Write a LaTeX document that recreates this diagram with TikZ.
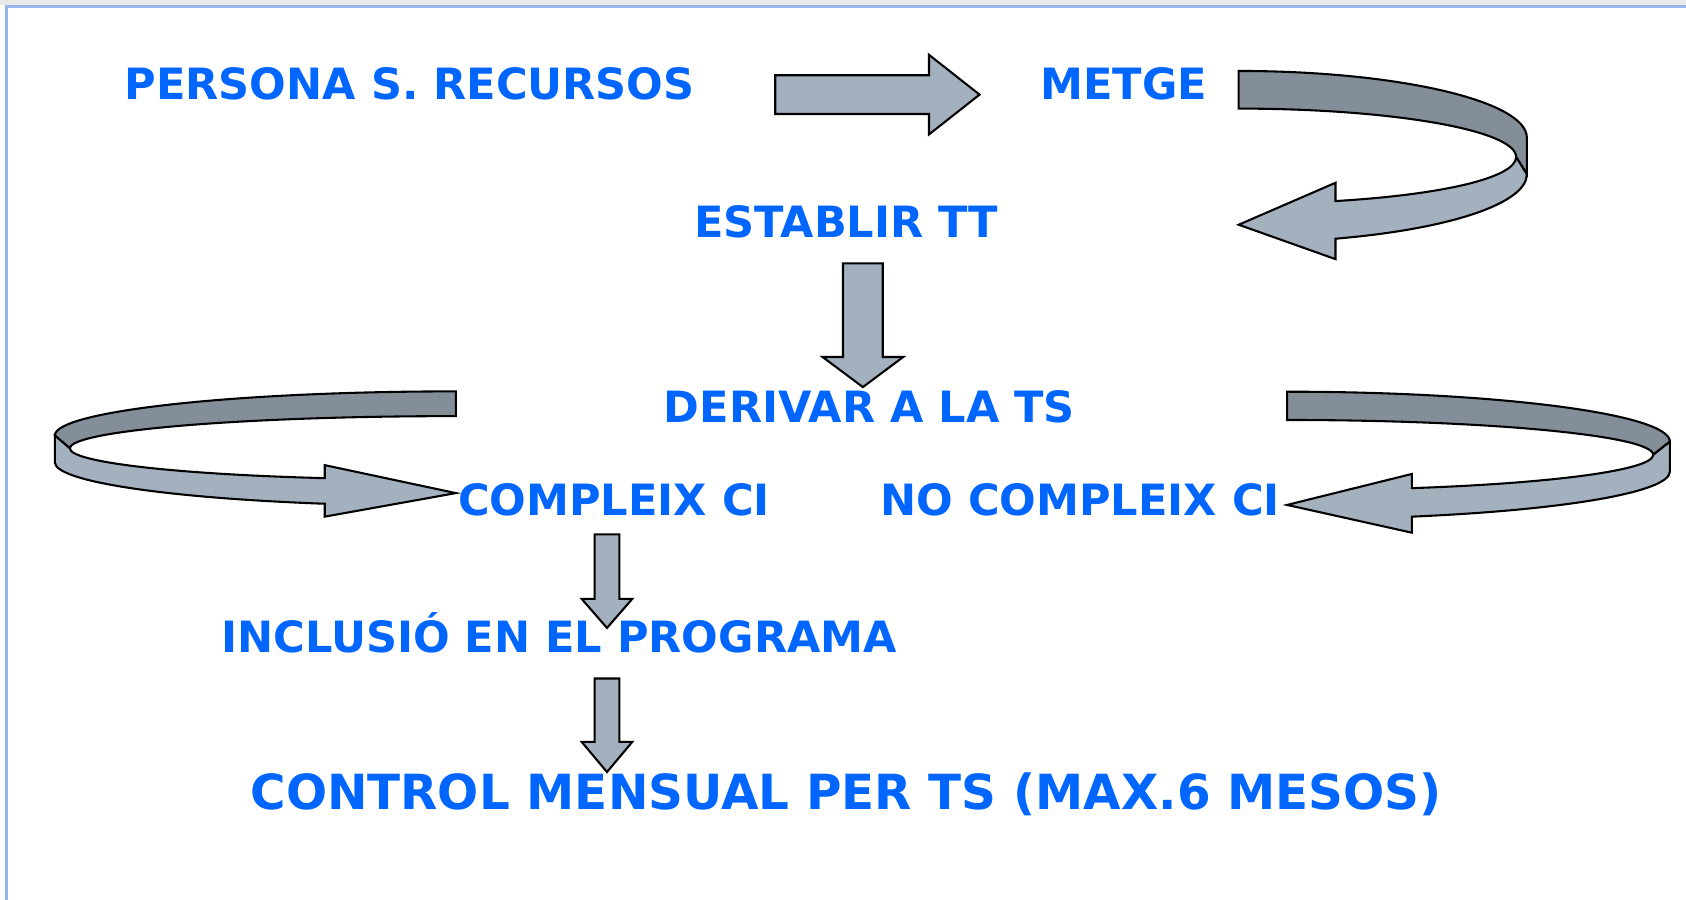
\documentclass[tikz,border=0pt]{standalone}
\usepackage{fontspec}
\setmainfont{DejaVu Sans}

\definecolor{textBlue}{HTML}{0066FF}
\definecolor{faceDark}{HTML}{848E99}
\definecolor{faceLight}{HTML}{A3B1BF}
\definecolor{frameBlue}{HTML}{99B4E8}
\definecolor{stripGray}{HTML}{E9E9E9}

\begin{document}
\begin{tikzpicture}
[x=0.01cm,y=-0.01cm,%
  labelDecorate/.style={text=textBlue,inner sep=0pt,anchor=base,
    font=\bfseries\fontsize{11.4}{13}\selectfont},%
  arrowDecorate/.style={draw=black,fill=faceLight,line width=0.55pt},%
  backDecorate/.style={draw=black,fill=faceDark,line width=0.55pt}]
\useasboundingbox (0,0) rectangle (1568,837);
%% slide frame
\fill[stripGray] (0,0) rectangle (1568,4.5);
\draw[frameBlue,line width=0.6pt] (6,837) -- (6,6) -- (1568,6);
%% labels
\foreach \nodename/\x/\y/\txt in {persona/381/93/PERSONA S. RECURSOS,
  metge/1045/93/METGE, establir/787/221/ESTABLIR TT,
  derivar/808.5/393/DERIVAR A LA TS, compleix/571/479/COMPLEIX CI,
  nocompleix/1004.5/479/NO COMPLEIX CI,
  inclusio/520/607/INCLUSIÓ EN EL PROGRAMA}
{
  \node (\nodename) at (\x,\y) [labelDecorate] {\txt};
}
\node (control) at (787,753) [labelDecorate,
  font=\bfseries\fontsize{12.8}{15}\selectfont] {CONTROL MENSUAL PER TS (MAX.6 MESOS)};
%% straight block arrows
\draw[arrowDecorate] (721,70) -- (864,70) -- (864,51) -- (911,88)
  -- (864,125) -- (864,106) -- (721,106) -- cycle;
\foreach \cx/\top/\neck/\tip/\sw/\hw in {802.5/245/332/360/18.5/37.5,
  564.5/497/557/584/11.5/23.5, 564.5/631/690/718/11.5/23.5}
{
  \draw[arrowDecorate] (\cx-\sw,\top) -- (\cx+\sw,\top) -- (\cx+\sw,\neck)
    -- (\cx+\hw,\neck) -- (\cx,\tip) -- (\cx-\hw,\neck) -- (\cx-\sw,\neck) -- cycle;
}
%% turning arrow: metge -> establir
\draw[backDecorate] (1152,66) .. controls (1300,66) and (1420,94) .. (1420,128)
  -- (1420,162) -- (1410,146) .. controls (1410,121) and (1294,101) .. (1152,101) -- cycle;
\draw[arrowDecorate] (1420,162) .. controls (1420,189) and (1349,213) .. (1242,222)
  -- (1242,241) -- (1152,209) -- (1242,170) -- (1242,187)
  .. controls (1343,181) and (1410,165) .. (1410,146) -- cycle;
%% turning arrow: derivar -> compleix
\draw[backDecorate] (424,364) .. controls (218,364) and (51,382.4) .. (51,405)
  -- (65,417) .. controls (65,400.4) and (226,387) .. (424,387) -- cycle;
\draw[arrowDecorate] (51,405) -- (51,430) .. controls (51,447.5) and (151.7,463) .. (302,468.5)
  -- (302,480.5) -- (424,458.6) -- (302,432.6) -- (302,444.7)
  .. controls (160,441) and (65,429.6) .. (65,417) -- cycle;
%% turning arrow: derivar -> no compleix
\draw[backDecorate] (1197,364.3) .. controls (1393.5,364.3) and (1553,385.1) .. (1553,410.7)
  -- (1537.5,423) .. controls (1537.5,405.1) and (1385,390.6) .. (1197,390.6) -- cycle;
\draw[arrowDecorate] (1553,410.7) -- (1553,438.6)
  .. controls (1553,457.5) and (1456.5,474.3) .. (1313,480.5)
  -- (1313,495.4) -- (1197,469.6) -- (1313,440.8) -- (1313,454)
  .. controls (1447.6,449.3) and (1537.5,436.9) .. (1537.5,423) -- cycle;
\end{tikzpicture}
\end{document}
